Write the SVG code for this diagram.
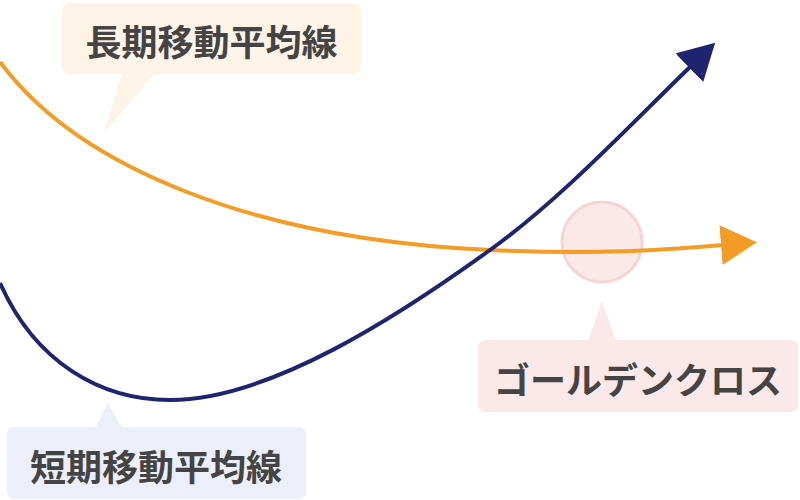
<svg xmlns="http://www.w3.org/2000/svg" width="800" height="500" viewBox="0 0 800 500">
<style>
.lbl{font-family:"Noto Sans CJK JP","Noto Sans CJK SC",sans-serif;font-weight:700;font-size:36px;fill:#444;text-anchor:middle;dominant-baseline:central}
.line{fill:none;stroke-width:4}
</style>
<defs>
<marker id="ahNavy" markerUnits="userSpaceOnUse" markerWidth="36" markerHeight="40" viewBox="0 0 36 40" refX="1" refY="20" orient="auto">
<path d="M0,0 L36,20 L0,40 Z" fill="#1e2470"/>
</marker>
<marker id="ahOrange" markerUnits="userSpaceOnUse" markerWidth="36" markerHeight="40" viewBox="0 0 36 40" refX="1" refY="20" orient="auto">
<path d="M0,0 L36,20 L0,40 Z" fill="#f39c26"/>
</marker>
</defs>
<rect width="800" height="500" fill="#fff"/>
<g id="golden-cross-marker">
<circle cx="602" cy="242" r="40" fill="#fbe9ea" stroke="#f7d3d4" stroke-width="3"/>
</g>
<g id="connectors">
<path class="line" stroke="#f39c26" d="M0,62 C80,170 260,240 490,250 C600,255 660,250 722,245" marker-end="url(#ahOrange)"/>
<path class="line" stroke="#1e2470" d="M0,283 C35,362 100,400 170,400 C270,400 400,315 490,250 C560,200 630,125 690,67" marker-end="url(#ahNavy)"/>
</g>
<g id="long-ma">
<rect x="62" y="3" width="299" height="71" rx="7" fill="#fdf3e7"/>
<polygon points="122,73 155,73 104,133" fill="#fdf3e7"/>
<text class="lbl" x="211.5" y="40">長期移動平均線</text>
</g>
<g id="short-ma">
<rect x="7" y="427" width="299" height="72" rx="7" fill="#eceff9"/>
<polygon points="95,428 122,428 108,403" fill="#eceff9"/>
<text class="lbl" x="156" y="465">短期移動平均線</text>
</g>
<g id="golden-cross">
<rect x="478" y="340" width="320" height="72" rx="7" fill="#fbe9ea"/>
<polygon points="588,341 616,341 602,301" fill="#fbe9ea"/>
<text class="lbl" x="638" y="378">ゴールデンクロス</text>
</g>
</svg>
